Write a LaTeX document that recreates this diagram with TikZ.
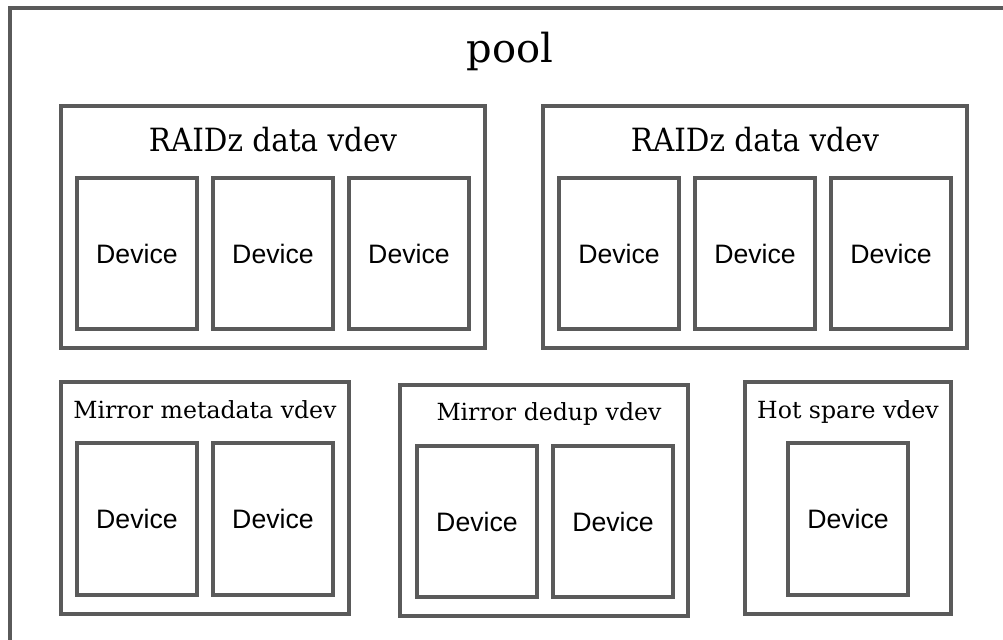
\documentclass[tikz,border=0pt]{standalone}
\usepackage{fontspec}
\setmainfont{DejaVu Serif}
\newfontfamily\devfont{Liberation Sans}
\newfontfamily\widetitle[FakeStretch=0.92]{DejaVu Serif}
\definecolor{linegray}{HTML}{5A5A5A}
\begin{document}
\begin{tikzpicture}[x=0.75pt,y=-0.75pt,
  frame/.style={draw=linegray, line width=2.6pt, rectangle, anchor=north west,
                inner sep=0pt, outer sep=0pt},
  sz/.style 2 args={minimum width=#1*0.75pt, minimum height=#2*0.75pt},
  dev/.style={frame, sz={120}{151}, font=\devfont\fontsize{20}{24}\selectfont},
  bigttl/.style={anchor=base, inner sep=0pt, font=\widetitle\fontsize{24}{28}\selectfont},
  smallttl/.style={anchor=base, inner sep=0pt, font=\fontsize{17.7}{22}\selectfont},
]
\useasboundingbox (0,0) rectangle (1003,639);

% outer pool frame (runs past the right and bottom edges)
\node[frame, sz={1030}{660}] (poolbox) at (10,8) {};
\node[anchor=base, inner sep=0pt, font=\fontsize{30}{36}\selectfont] (pooltitle) at (510,62) {pool};

% first RAIDz vdev
\node[frame, sz={424}{242}] (raidA) at (61,106) {};
\node[bigttl] (raidAttl) at (273,151) {RAIDz data vdev};
\node[dev] (raidA1) at (77,178) {Device};
\node[dev] (raidA2) at (213,178) {Device};
\node[dev] (raidA3) at (349,178) {Device};

% second RAIDz vdev
\node[frame, sz={424}{242}] (raidB) at (543,106) {};
\node[bigttl] (raidBttl) at (755,151) {RAIDz data vdev};
\node[dev] (raidB1) at (559,178) {Device};
\node[dev] (raidB2) at (695,178) {Device};
\node[dev] (raidB3) at (831,178) {Device};

% mirror metadata vdev
\node[frame, sz={288}{232}] (meta) at (61,382) {};
\node[smallttl] (metattl) at (205,418) {Mirror metadata vdev};
\node[dev, sz={120}{152}] (meta1) at (77,443) {Device};
\node[dev, sz={120}{152}] (meta2) at (213,443) {Device};

% mirror dedup vdev
\node[frame, sz={288}{231}] (dedup) at (400,385) {};
\node[smallttl] (dedupttl) at (549,420) {Mirror dedup vdev};
\node[dev] (dedup1) at (417,446) {Device};
\node[dev] (dedup2) at (553,446) {Device};

% hot spare vdev
\node[frame, sz={206}{232}] (spare) at (745,382) {};
\node[smallttl] (sparettl) at (848,418) {Hot spare vdev};
\node[dev, sz={120}{152}] (spare1) at (788,443) {Device};
\end{tikzpicture}
\end{document}
